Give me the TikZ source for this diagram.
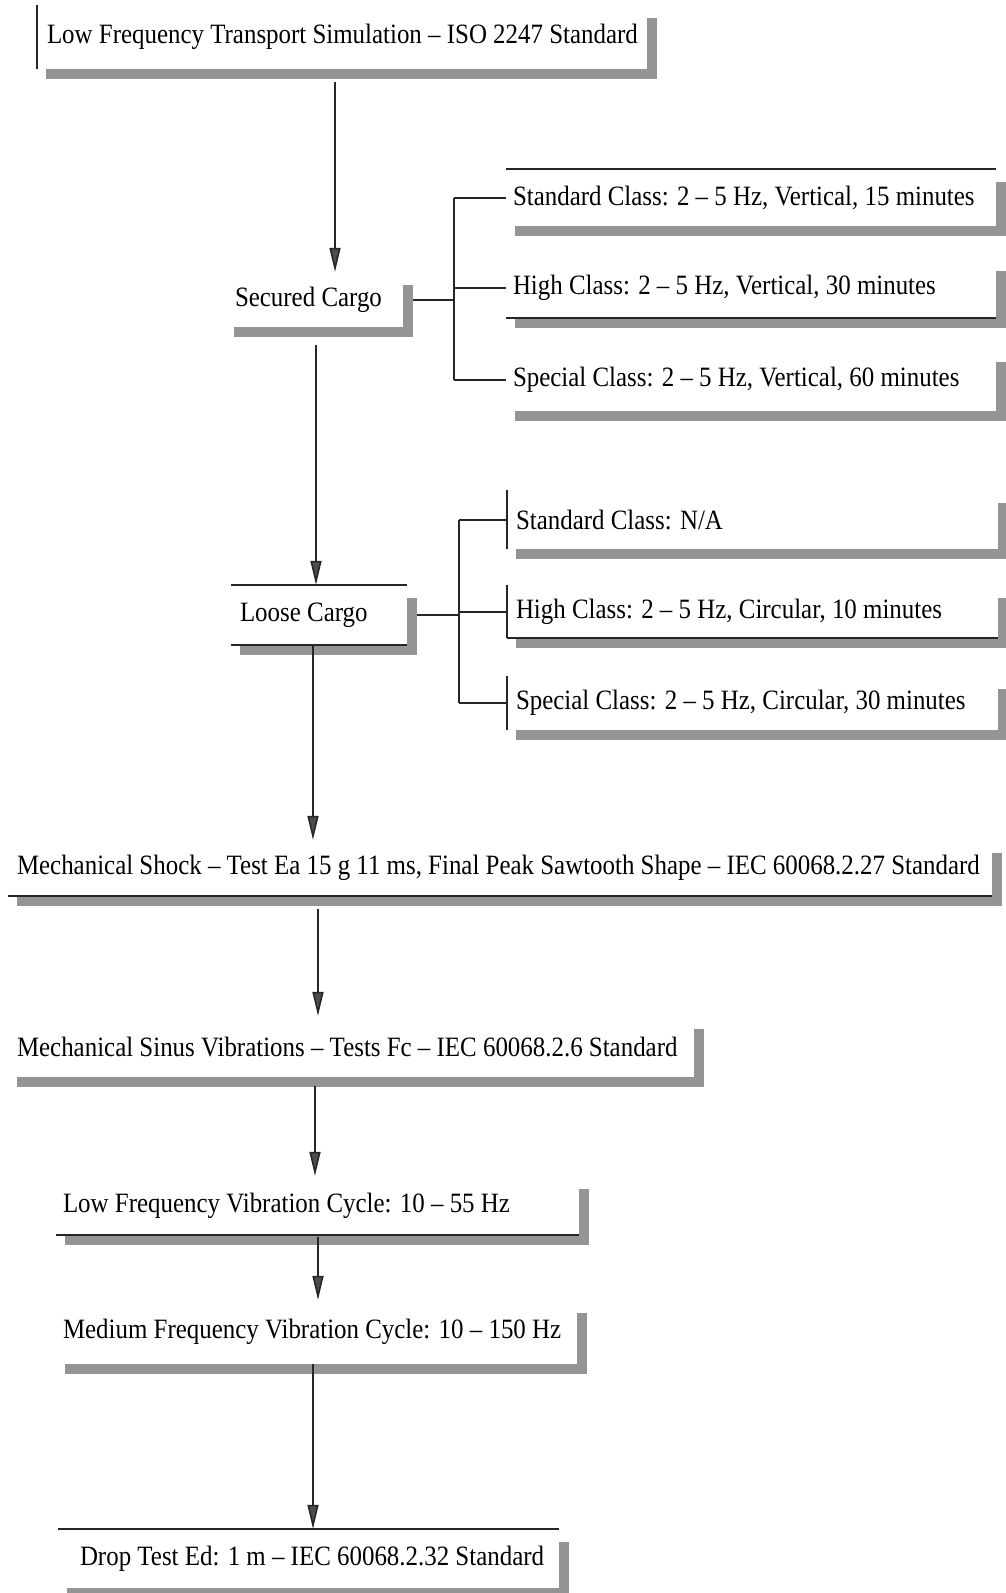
\documentclass[tikz,border=0pt]{standalone}
\usepackage{fontspec}
\setmainfont[FakeStretch=0.89]{Liberation Serif}
\usetikzlibrary{arrows.meta}
\definecolor{shadowc}{gray}{0.58}
\tikzset{
  boxnode/.style={inner ysep=0pt, font=\fontsize{28}{30}\selectfont, anchor=center},
  bline/.style={line width=2pt, black!85},
  conn/.style={line width=2pt, black!85},
  arr/.style={line width=1.6pt, black!85, -{Triangle[width=11pt,length=24pt,fill=black!70]}},
}
\newcommand\bx[7]{%
  \pgfmathsetmacro\bxw{#4-#2-2*#6}%
  \pgfmathsetmacro\bxh{#5-#3}%
  \node[boxnode, inner xsep=#6pt, minimum height=\bxh pt] (#1) at ({(#2+#4)/2},{(#3+#5)/2}) {\makebox[\bxw pt][l]{#7}};
}
\newcommand\shd[1]{%
  \fill[shadowc] ([yshift=-13pt]#1.north east) rectangle ([xshift=10pt,yshift=-10pt]#1.south east);
  \fill[shadowc] ([xshift=9pt]#1.south west) rectangle ([xshift=10pt,yshift=-10pt]#1.south east);
}
\begin{document}
\begin{tikzpicture}[x=1pt,y=-1pt]
\useasboundingbox (0,0) rectangle (1006,1593);
\clip (0,0) rectangle (1006,1593);
\fill[white] (0,0) rectangle (1006,1593);

% boxes
\bx{B1}{37}{5}{647}{69}{10}{Low Frequency Transport Simulation – ISO 2247 Standard}
\bx{B2}{225}{272}{403}{327}{10}{Secured Cargo}
\bx{S1}{506}{169}{996}{226}{7}{Standard Class: 2 – 5 Hz, Vertical, 15 minutes}
\bx{S2}{506}{258}{996}{318}{7}{High Class: 2 – 5 Hz, Vertical, 30 minutes}
\bx{S3}{506}{349}{996}{411}{7}{Special Class: 2 – 5 Hz, Vertical, 60 minutes}
\bx{B3}{231}{585}{407}{645}{9}{Loose Cargo}
\bx{L1}{507}{490}{998}{549}{9}{Standard Class: N/A}
\bx{L2}{507}{585}{998}{638}{9}{High Class: 2 – 5 Hz, Circular, 10 minutes}
\bx{L3}{507}{676}{998}{730}{9}{Special Class: 2 – 5 Hz, Circular, 30 minutes}
\bx{B4}{8}{840}{992}{896}{9}{Mechanical Shock – Test Ea 15 g 11 ms, Final Peak Sawtooth Shape – IEC 60068.2.27 Standard}
\bx{B5}{8}{1016}{694}{1077}{9}{Mechanical Sinus Vibrations – Tests Fc – IEC 60068.2.6 Standard}
\bx{B6}{56}{1176}{579}{1235}{7}{Low Frequency Vibration Cycle: 10 – 55 Hz}
\bx{B7}{56}{1300}{577}{1364}{7}{Medium Frequency Vibration Cycle: 10 – 150 Hz}
\bx{B8}{58}{1529}{559}{1588}{22}{Drop Test Ed: 1 m – IEC 60068.2.32 Standard}

% shadows
\shd{B1}\shd{B2}\shd{S1}\shd{S2}\shd{S3}\shd{B3}\shd{L1}\shd{L2}\shd{L3}
\shd{B4}\shd{B5}\shd{B6}\shd{B7}\shd{B8}

% visible border lines
\draw[bline] (B1.north west) -- (B1.south west);
\draw[bline] (S1.north west) -- (S1.north east);
\draw[bline] (S2.south west) -- (S2.south east);
\draw[bline] (B3.north west) -- (B3.north east);
\draw[bline] (B3.south west) -- (B3.south east);
\draw[bline] (L1.north west) -- (L1.south west);
\draw[bline] (L2.north west) -- (L2.south west);
\draw[bline] (L2.south west) -- (L2.south east);
\draw[bline] (L3.north west) -- (L3.south west);
\draw[bline] (B4.south west) -- (B4.south east);
\draw[bline] (B6.south west) -- (B6.south east);
\draw[bline] (B8.north west) -- (B8.north east);

% branch connectors
\coordinate (j1) at ([xshift=51pt]B2.east);
\coordinate (j2) at ([xshift=52pt]B3.east);
\draw[conn] ([xshift=10pt]B2.east) -- (j1);
\draw[conn] (j1 |- S1.west) -- (j1 |- S3.west);
\draw[conn] (j1 |- S1.west) -- (S1.west);
\draw[conn] (j1 |- S2.west) -- (S2.west);
\draw[conn] (j1 |- S3.west) -- (S3.west);
\draw[conn] ([xshift=10pt]B3.east) -- (j2);
\draw[conn] (j2 |- L1.west) -- (j2 |- L3.west);
\draw[conn] (j2 |- L1.west) -- (L1.west);
\draw[conn] (j2 |- L2.west) -- (L2.west);
\draw[conn] (j2 |- L3.west) -- (L3.west);

% main flow arrows
\draw[arr] ([xshift=-7pt,yshift=-13pt]B1.south) -- ([xshift=-7pt]B1.south |- B2.north);
\draw[arr] ([xshift=2pt,yshift=-18pt]B2.south) -- ([xshift=2pt]B2.south |- B3.north);
\draw[arr] ([xshift=-6pt]B3.south) -- ([xshift=-6pt]B3.south |- B4.north);
\draw[arr] ([xshift=-182pt,yshift=-13pt]B4.south) -- ([xshift=-182pt]B4.south |- B5.north);
\draw[arr] ([xshift=-36pt,yshift=-9pt]B5.south) -- ([xshift=-36pt]B5.south |- B6.north);
\draw[arr] ([xshift=0.5pt,yshift=-2pt]B6.south) -- ([xshift=0.5pt]B6.south |- B7.north);
\draw[arr] ([xshift=-3.5pt]B7.south) -- ([xshift=-3.5pt]B7.south |- B8.north);
\end{tikzpicture}
\end{document}
